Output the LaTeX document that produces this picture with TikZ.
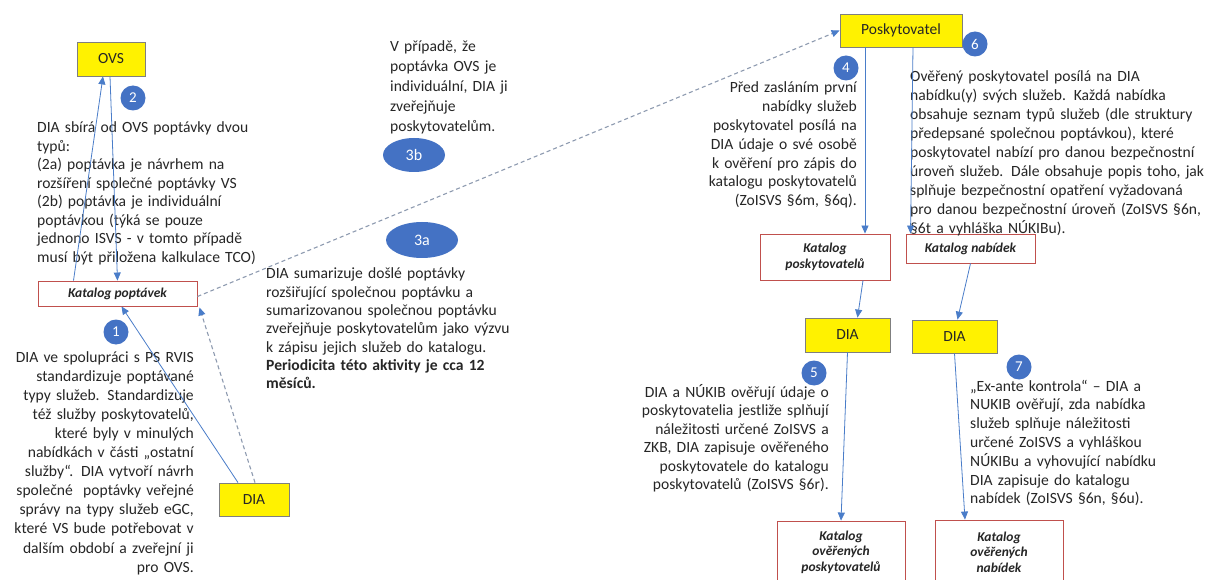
\documentclass[tikz,border=0pt]{standalone}
\usepackage{fontspec}
\setmainfont{Carlito}
\usetikzlibrary{arrows.meta,shapes.geometric}
\definecolor{numblue}{HTML}{4472C4}
\definecolor{lineblue}{HTML}{4A7DC9}
\definecolor{dashgray}{HTML}{8E9BB0}
\definecolor{boxred}{HTML}{C0504D}
\definecolor{boxgray}{HTML}{7F7F7F}
\definecolor{txtcol}{HTML}{262626}
\begin{document}
\begin{tikzpicture}[x=1pt,y=-1pt,
 ybox/.style={draw=boxgray, fill=yellow, line width=0.8pt, inner sep=0pt, text=txtcol, font=\fontsize{15.5}{18}\selectfont},
 rbox/.style={draw=boxred, fill=white, line width=0.9pt, inner sep=0pt, align=center, text=txtcol, font=\fontsize{13.5}{15.5}\selectfont\bfseries\itshape},
 num/.style={circle, fill=numblue, text=white, minimum size=25pt, inner sep=0pt, font=\fontsize{15}{15}\selectfont},
 oval/.style={ellipse, fill=numblue, text=white, inner sep=0pt, font=\fontsize{16}{16}\selectfont},
 txt/.style={inner sep=0pt, text width=330pt, text=txtcol, font=\fontsize{15.6}{#1}\selectfont},
 arr/.style={draw=lineblue, line width=0.8pt, -{Triangle[length=8pt,width=7pt]}},
 darr/.style={draw=dashgray, dash pattern=on 4pt off 3pt, line width=1.1pt, -{Triangle[length=8pt,width=7pt,color=lineblue]}},
]
\useasboundingbox (0,0) rectangle (1205,580);
\fill[white] (0,0) rectangle (1205,580);
\clip (0,0) rectangle (1205,580);

% boxes
\node[ybox, minimum width=68pt, minimum height=34pt] (ovs) at (111,59) {OVS\hspace{18pt}};
\node[rbox, minimum width=159pt, minimum height=25pt] (kp) at (117.5,293.5) {Katalog poptávek};
\node[ybox, minimum width=70pt, minimum height=33pt] (dia1) at (254,499.5) {DIA};
\node[ybox, minimum width=122pt, minimum height=33pt] (posk) at (901,30.5) {Poskytovatel};
\node[rbox, minimum width=130pt, minimum height=46pt] (kpos) at (825,257) {Katalog\\poskytovatelů};
\node[rbox, minimum width=129pt, minimum height=29pt] (knab) at (970.5,248.5) {Katalog nabídek};
\node[ybox, minimum width=85pt, minimum height=34pt] (dia2) at (847.5,335) {DIA};
\node[ybox, minimum width=85pt, minimum height=33pt] (dia3) at (954.5,336.5) {DIA};
\node[rbox, minimum width=128pt, minimum height=62pt] (kop) at (841,552) {Katalog\\ověřených\\poskytovatelů};
\node[rbox, minimum width=128pt, minimum height=64pt] (kon) at (999,552) {Katalog\\ověřených\\nabídek};

% numbers
\node[num] (c2) at (133,98) {2};
\node[num] (c1) at (116,332) {1};
\node[num] (c4) at (846,68) {4};
\node[num] (c6) at (975,44) {6};
\node[num] (c5) at (814,373) {5};
\node[num] (c7) at (1019,367) {7};
\node[oval, minimum width=62pt, minimum height=34pt] (e3b) at (414,155) {3b};
\node[oval, minimum width=72pt, minimum height=36pt] (e3a) at (422,240) {3a};

% texts
\node[txt=18.5pt, align=left, anchor=base west] (t2) at (37,133) {DIA sbírá od OVS poptávky dvou\\ typů:\\ (2a) poptávka je návrhem na\\ rozšíření společné poptávky VS\\ (2b) poptávka je individuální\\ poptávkou (týká se pouze\\ jednono ISVS - v tomto případě\\ musí být přiložena kalkulace TCO)};
\node[txt=19.1pt, align=right, anchor=base east] (t1) at (194,362) {DIA ve spolupráci s PS RVIS\\ standardizuje poptávané\\ typy služeb. Standardizuje\\ též služby poskytovatelů,\\ které byly v minulých\\ nabídkách v části „ostatní\\ služby“. DIA vytvoří návrh\\ společné\ \ poptávky veřejné\\ správy na typy služeb eGC,\\ které VS bude potřebovat v\\ dalším období a zveřejní ji\\ pro OVS.};
\node[txt=20pt, align=left, anchor=base west] (t3b) at (390,52) {V případě, že\\ poptávka OVS je\\ individuální, DIA ji\\ zveřejňuje\\ poskytovatelům.};
\node[txt=18.3pt, align=left, anchor=base west] (t3a) at (266,279) {DIA sumarizuje došlé poptávky\\ rozšiřující společnou poptávku a\\ sumarizovanou společnou poptávku\\ zveřejňuje poskytovatelům jako výzvu\\ k zápisu jejich služeb do katalogu.\\ \textbf{Periodicita této aktivity je cca 12}\\ \textbf{měsíců.}};
\node[txt=18.8pt, align=right, anchor=base east] (t4) at (857,93) {Před zasláním první\\ nabídky služeb\\ poskytovatel posílá na\\ DIA údaje o své osobě\\ k ověření pro zápis do\\ katalogu poskytovatelů\\ (ZoISVS §6m, §6q).};
\node[txt=19pt, align=left, anchor=base west] (t6) at (910,82) {Ověřený poskytovatel posílá na DIA\\ nabídku(y) svých služeb. Každá nabídka\\ obsahuje seznam typů služeb (dle struktury\\ předepsané společnou poptávkou), které\\ poskytovatel nabízí pro danou bezpečnostní\\ úroveň služeb. Dále obsahuje popis toho, jak\\ splňuje bezpečnostní opatření vyžadovaná\\ pro danou bezpečnostní úroveň (ZoISVS §6n,\\ §6t a vyhláška NÚKIBu).};
\node[txt=18.5pt, align=right, anchor=base east] (t5) at (829,397) {DIA a NÚKIB ověřují údaje o\\ poskytovatelia jestliže splňují\\ náležitosti určené ZoISVS a\\ ZKB, DIA zapisuje ověřeného\\ poskytovatele do katalogu\\ poskytovatelů (ZoISVS §6r).};
\node[txt=18.8pt, align=left, anchor=base west] (t7) at (970,391) {„Ex-ante kontrola“ – DIA a\\ NUKIB ověřují, zda nabídka\\ služeb splňuje náležitosti\\ určené ZoISVS a vyhláškou\\ NÚKIBu a vyhovující nabídku\\ DIA zapisuje do katalogu\\ nabídek (ZoISVS §6n, §6u).};

% connectors
\draw[arr] ([xshift=-44pt]kp.north) -- ([xshift=-8pt]ovs.south);
\draw[arr] ([xshift=-1pt]ovs.south) -- (kp.north);
\draw[arr] ([xshift=-16pt]dia1.north) -- ([xshift=4pt]kp.south);
\draw[darr] ([xshift=1pt]dia1.north) -- ([xshift=2pt,yshift=-1pt]kp.south east);
\draw[darr] ([yshift=-3pt]kp.east) -- (posk.west);
\draw[arr] ([xshift=-36pt]posk.south) -- ([xshift=40pt]kpos.north);
\draw[arr] ([xshift=12pt]posk.south) -- ([xshift=-60pt]knab.north);
\draw[arr] ([xshift=38pt]kpos.south) -- ([xshift=10pt]dia2.north);
\draw[arr] (knab.south) -- ([xshift=3pt]dia3.north);
\draw[arr] (dia2.south) -- (kop.north);
\draw[arr] (dia3.south) -- ([xshift=-34pt]kon.north);
\end{tikzpicture}
\end{document}
